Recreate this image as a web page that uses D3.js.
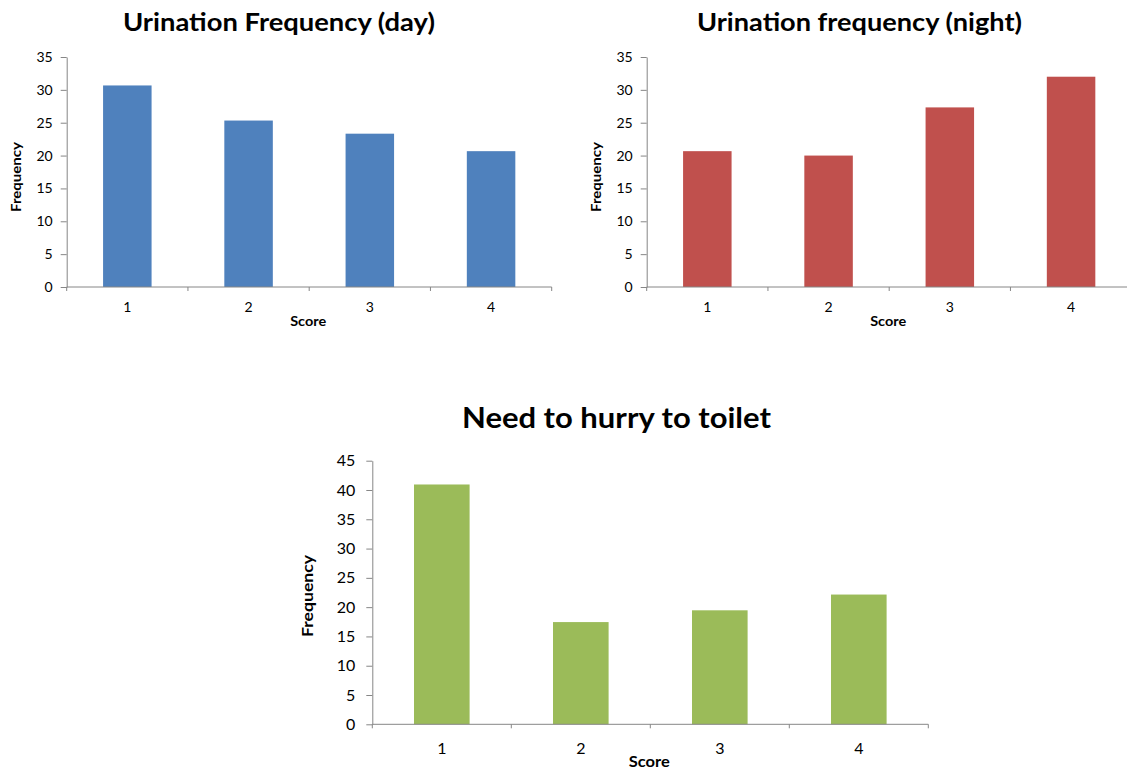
<!DOCTYPE html>
<html>
<head>
<meta charset="utf-8">
<script src="https://cdn.jsdelivr.net/npm/d3@7"></script>
<style>
  html, body { margin: 0; padding: 0; background: #fff; }
  svg { display: block; }
  text { font-family: Lato, "Open Sans", sans-serif; fill: #000; }
</style>
</head>
<body>
<svg id="chart" width="1127" height="771"></svg>
<script>
// Score categories shared by all three panels
const scores = ["1", "2", "3", "4"];

// Percentage of respondents at each score
const dayFrequency = [30.67, 25.33, 23.33, 20.67];
const nightFrequency = [20.67, 20.0, 27.33, 32.0];
const hurryToToilet = [40.94, 17.45, 19.46, 22.15];

// Y-axis tick labels
const ticksTop = [0, 5, 10, 15, 20, 25, 30, 35];
const ticksBottom = [0, 5, 10, 15, 20, 25, 30, 35, 40, 45];

const titles = ["Urination Frequency (day)", "Urination frequency (night)", "Need to hurry to toilet"];

const svg = d3.select("#chart");
const axisColor = "#868686";

function panel(cfg) {
  const g = svg.append("g");
  const x = d3.scaleBand().domain(scores).range([cfg.x0, cfg.x1]).paddingInner(0).paddingOuter(0);
  const y = d3.scaleLinear().domain([0, cfg.yMax]).range([cfg.y0, cfg.y1]);
  const barW = x.bandwidth() * 0.4;

  // bars
  g.selectAll("rect.bar").data(cfg.values).join("rect")
    .attr("class", "bar")
    .attr("x", (d, i) => x(scores[i]) + (x.bandwidth() - barW) / 2)
    .attr("y", d => y(d))
    .attr("width", barW)
    .attr("height", d => y(0) - y(d))
    .attr("fill", cfg.color);

  // y axis
  const ya = g.append("g").attr("transform", `translate(${cfg.x0},0)`)
    .call(d3.axisLeft(y).tickValues(cfg.ticks).tickSize(6).tickPadding(cfg.tickPad).tickSizeOuter(0));
  ya.select(".domain").attr("stroke", axisColor);
  ya.selectAll(".tick line").attr("stroke", axisColor);
  ya.selectAll(".tick text").attr("font-size", cfg.tickFont).attr("fill", "#000")
    .attr("font-family", "Lato, sans-serif");

  // x axis: ticks sit on the band boundaries
  const xa = g.append("g").attr("transform", `translate(0,${cfg.y0})`);
  xa.append("line").attr("x1", cfg.x0).attr("x2", cfg.x1).attr("stroke", axisColor);
  const bounds = scores.map(s => x(s)).concat([cfg.x1]);
  xa.selectAll("line.tk").data(bounds).join("line").attr("class", "tk")
    .attr("x1", d => d).attr("x2", d => d).attr("y1", 0).attr("y2", 4).attr("stroke", axisColor);
  xa.selectAll("text.lbl").data(scores).join("text").attr("class", "lbl")
    .attr("x", d => x(d) + x.bandwidth() / 2)
    .attr("y", cfg.xLabelDy)
    .attr("text-anchor", "middle")
    .attr("font-size", cfg.tickFont)
    .text(d => d);

  // axis titles
  g.append("text")
    .attr("x", (cfg.x0 + cfg.x1) / 2 - 1).attr("y", cfg.scoreY)
    .attr("text-anchor", "middle").attr("font-weight", "bold").attr("font-size", cfg.axisTitleFont)
    .attr("textLength", cfg.scoreLen).attr("lengthAdjust", "spacingAndGlyphs")
    .text("Score");
  g.append("text")
    .attr("transform", `translate(${cfg.freqX},${cfg.freqY}) rotate(-90)`)
    .attr("text-anchor", "middle").attr("font-weight", "bold").attr("font-size", cfg.axisTitleFont)
    .attr("textLength", cfg.freqLen).attr("lengthAdjust", "spacingAndGlyphs")
    .text("Frequency");

  // chart title
  g.append("text")
    .attr("x", cfg.titleX).attr("y", cfg.titleY)
    .attr("text-anchor", "middle").attr("font-weight", "bold").attr("font-size", cfg.titleFont)
    .attr("textLength", cfg.titleLen).attr("lengthAdjust", "spacingAndGlyphs")
    .text(cfg.title);
}

const topCommon = {
  y0: 287, y1: 57, yMax: 35, ticks: ticksTop, tickFont: 14, tickPad: 8,
  xLabelDy: 25, scoreY: 325.5, axisTitleFont: 13, scoreLen: 36, freqLen: 70,
  freqY: 177, titleY: 31, titleFont: 24
};

panel(Object.assign({}, topCommon, {
  x0: 66.7, x1: 551.7, values: dayFrequency, color: "#4F81BD",
  freqX: 21, titleX: 279, titleLen: 312, title: titles[0]
}));

panel(Object.assign({}, topCommon, {
  x0: 646.7, x1: 1131.7, values: nightFrequency, color: "#C0504D",
  freqX: 601, titleX: 859.5, titleLen: 325, title: titles[1]
}));

panel({
  x0: 372.3, x1: 928.3, y0: 724.3, y1: 460.7, yMax: 45, ticks: ticksBottom,
  values: hurryToToilet, color: "#9BBB59", tickFont: 16, tickPad: 11,
  xLabelDy: 30, scoreY: 767, axisTitleFont: 15, scoreLen: 41, freqLen: 82, freqX: 313, freqY: 596,
  titleX: 616.5, titleY: 428, titleFont: 29, titleLen: 309, title: titles[2]
});
</script>
</body>
</html>
